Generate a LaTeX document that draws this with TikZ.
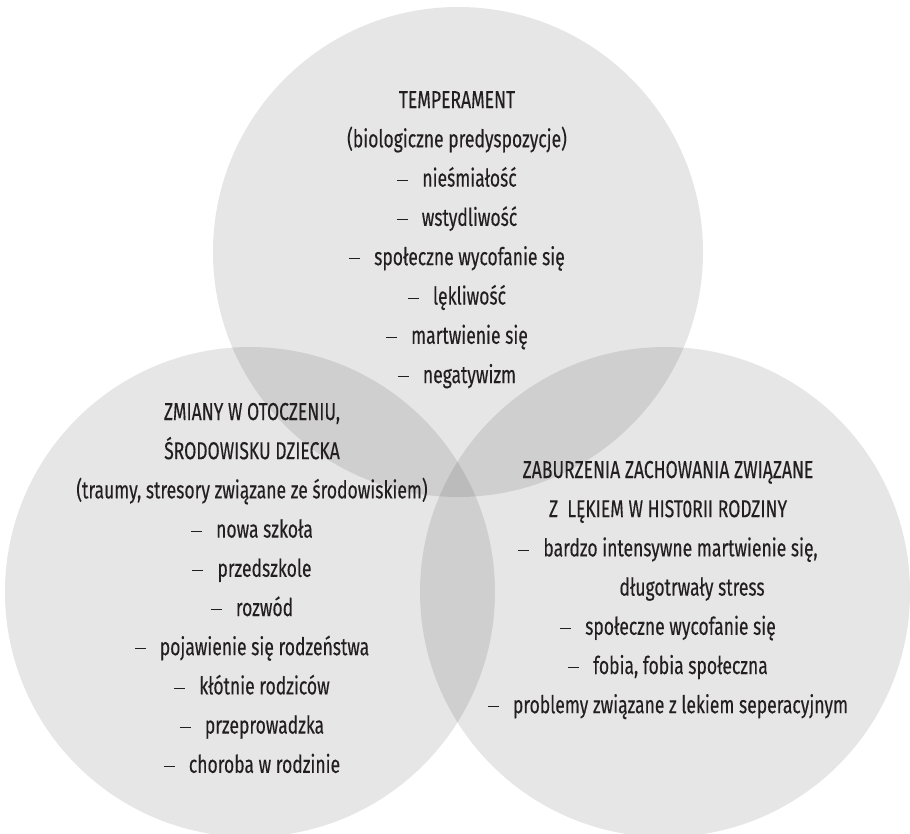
\documentclass[tikz,border=0pt]{standalone}
\usepackage{fontspec}
\setmainfont{Fira Sans}[FakeStretch=0.715, FakeBold=0.3]
\usetikzlibrary{positioning}
\definecolor{inkgray}{HTML}{231F20}
\newcommand{\dash}{\rule[5.8pt]{11pt}{1.1pt}\hspace{14pt}}

\begin{document}
\begin{tikzpicture}[x=1pt, y=-1pt,
        venn/.style={circle, minimum size=490pt, inner sep=0pt, fill=black, fill opacity=0.098, draw=none},
        item/.style={anchor=base, inner sep=0pt, text=inkgray, font=\fontsize{24.5}{28}\selectfont}]

      % 0. Page frame
      \useasboundingbox (0,0) rectangle (910,833);

      % 1. Three overlapping circles
      \node [venn] (temp) at (458,252) {};
      \node [venn] (env) at (250,592) {};
      \node [venn] (fam) at (665,592) {};

      % 2. Top circle: temperament
      \foreach \txt [count=\i from 0] in {TEMPERAMENT, (biologiczne predyspozycje), \dash nieśmiałość, \dash wstydliwość, \dash społeczne wycofanie się, \dash lękliwość, \dash martwienie się, \dash negatywizm}
        \node [item] (temp\i) at (457, {108+39.3*\i}) {\txt};

      % 3. Left circle: environment
      \foreach \txt [count=\i from 0] in {{ZMIANY W OTOCZENIU,}, ŚRODOWISKU DZIECKA, {(traumy, stresory związane ze środowiskiem)}, \dash nowa szkoła, \dash przedszkole, \dash rozwód, \dash pojawienie się rodzeństwa, \dash kłótnie rodziców, \dash przeprowadzka, \dash choroba w rodzinie}
        \node [item] (env\i) at (252, {420+39.2*\i}) {\txt};

      % 4. Right circle: family history
      \foreach \txt [count=\i from 0] in {ZABURZENIA ZACHOWANIA ZWIĄZANE, Z\ \ LĘKIEM W HIST0RII RODZINY, {\dash bardzo intensywne martwienie się,}, \hspace*{48pt}długotrwały stress, \dash społeczne wycofanie się, {\dash fobia, fobia społeczna}, \dash problemy związane z lekiem seperacyjnym}
        \node [item] (fam\i) at (668, {478+39.2*\i}) {\txt};
    \end{tikzpicture}
\end{document}
